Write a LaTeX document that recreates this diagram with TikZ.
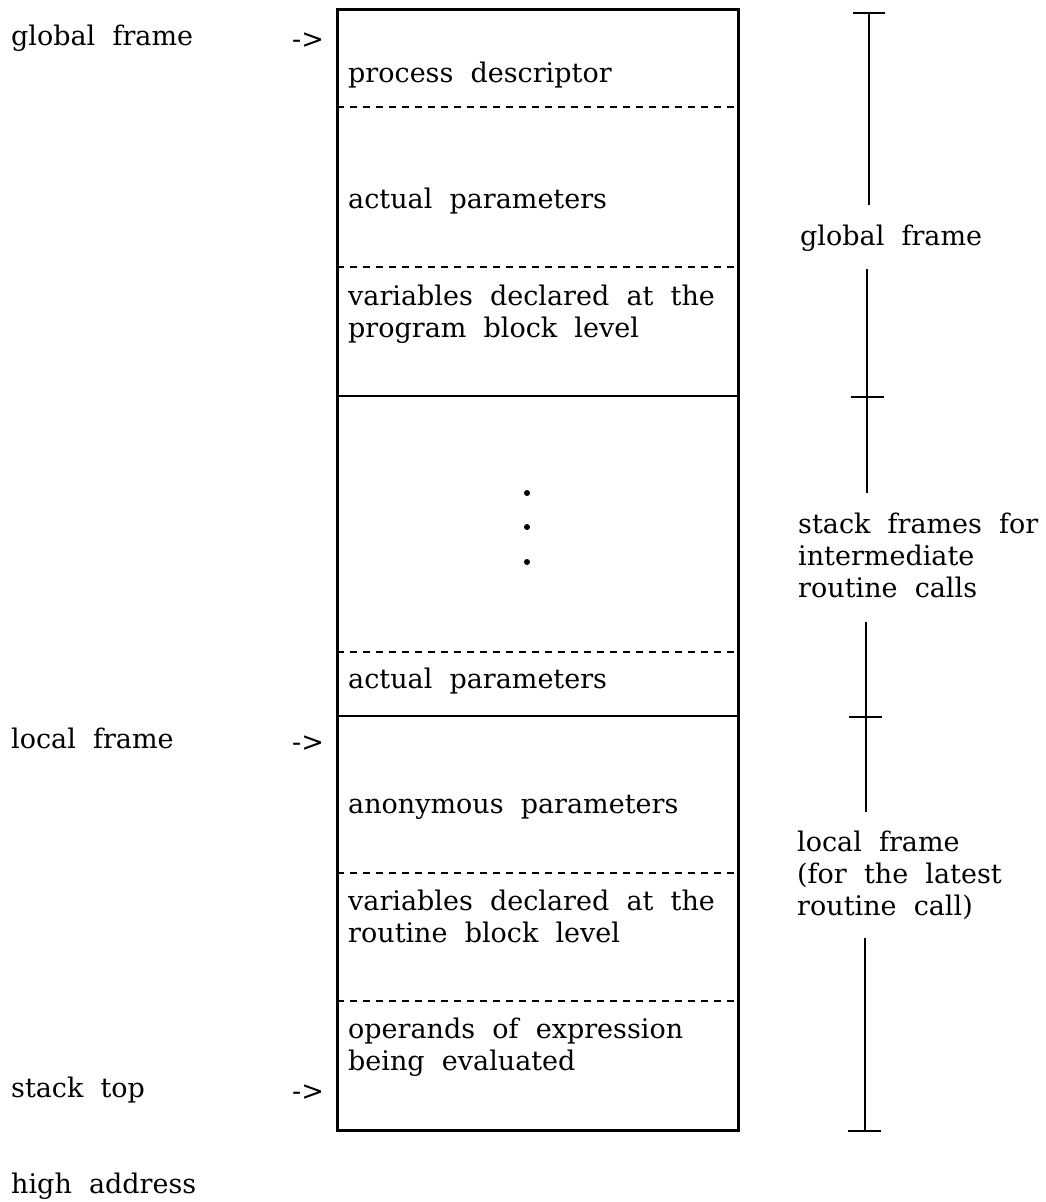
\documentclass[tikz,border=0pt]{standalone}
\usepackage{fontspec}
\setmainfont{DejaVu Serif}[WordSpace=2.0]
\begin{document}
\begin{tikzpicture}[x=1pt,y=-1pt,
  lbl/.style={anchor=base west,inner sep=0pt,font=\fontsize{27}{32}\selectfont},
  frameedge/.style={line width=3pt},
  divider/.style={line width=2pt},
  softdiv/.style={line width=1.7pt,dash pattern=on 7pt off 6pt},
  scalebar/.style={line width=1.5pt},
  tick/.style={line width=2pt}]
\useasboundingbox (0,0) rectangle (1046,1202);

% stack memory block
\draw[frameedge] (337,9) rectangle (738,1130);
\coordinate (dA) at (337,107);  \coordinate (dA') at (738,107);
\coordinate (dB) at (337,267);  \coordinate (dB') at (738,267);
\coordinate (sC) at (337,396);  \coordinate (sC') at (738,396);
\coordinate (dD) at (337,652);  \coordinate (dD') at (738,652);
\coordinate (sE) at (337,716);  \coordinate (sE') at (738,716);
\coordinate (dF) at (337,873);  \coordinate (dF') at (738,873);
\coordinate (dG) at (337,1001); \coordinate (dG') at (738,1001);
\draw[softdiv] (dA) -- (dA');
\draw[softdiv] (dB) -- (dB');
\draw[divider] (sC) -- (sC');
\draw[softdiv] (dD) -- (dD');
\draw[divider] (sE) -- (sE');
\draw[softdiv] (dF) -- (dF');
\draw[softdiv] (dG) -- (dG');

% contents of the block
\node[lbl] (pd)  at (348,82)   {process descriptor};
\node[lbl] (ap1) at (348,208)  {actual parameters};
\node[lbl] (vp1) at (348,305)  {variables declared at the};
\node[lbl] (vp2) at (348,337)  {program block level};
\fill (527,493) circle (3pt);
\fill (527,527) circle (3pt);
\fill (527,562) circle (3pt);
\node[lbl] (ap2) at (348,688)  {actual parameters};
\node[lbl] (anp) at (348,813)  {anonymous parameters};
\node[lbl] (vr1) at (348,910)  {variables declared at the};
\node[lbl] (vr2) at (348,942)  {routine block level};
\node[lbl] (op1) at (348,1038) {operands of expression};
\node[lbl] (op2) at (348,1070) {being evaluated};

% pointers on the left
\node[lbl] (gf)  at (11,45)    {global frame};
\node[lbl] (gfa) at (292,48)   {->};
\node[lbl] (lf)  at (11,748)   {local frame};
\node[lbl] (lfa) at (292,751)  {->};
\node[lbl] (st)  at (11,1097)  {stack top};
\node[lbl] (sta) at (292,1100) {->};
\node[lbl] (ha)  at (11,1193)  {high address};

% extent scale on the right
\coordinate (t0) at (869,13);
\coordinate (t1) at (867,397);
\coordinate (t2) at (866,717);
\coordinate (t3) at (865,1131);
\draw[tick] (853,13) -- (885,13);
\draw[tick] (851,397) -- (884,397);
\draw[tick] (849,717) -- (882,717);
\draw[tick] (848,1131) -- (881,1131);

\node[lbl] (rg)  at (800,245) {global frame};
\coordinate (g0) at (869,205);
\coordinate (g1) at (867,269);
\draw[scalebar] (t0) -- (g0);
\draw[scalebar] (g1) -- (t1);

\node[lbl] (ri1) at (798,533) {stack frames for};
\node[lbl] (ri2) at (798,565) {intermediate};
\node[lbl] (ri3) at (798,597) {routine calls};
\coordinate (i0) at (867,493);
\coordinate (i1) at (866,622);
\draw[scalebar] (t1) -- (i0);
\draw[scalebar] (i1) -- (t2);

\node[lbl] (rl1) at (797,851) {local frame};
\node[lbl] (rl2) at (797,883) {(for the latest};
\node[lbl] (rl3) at (797,915) {routine call)};
\coordinate (l0) at (866,812);
\coordinate (l1) at (865,938);
\draw[scalebar] (t2) -- (l0);
\draw[scalebar] (l1) -- (t3);
\end{tikzpicture}
\end{document}
